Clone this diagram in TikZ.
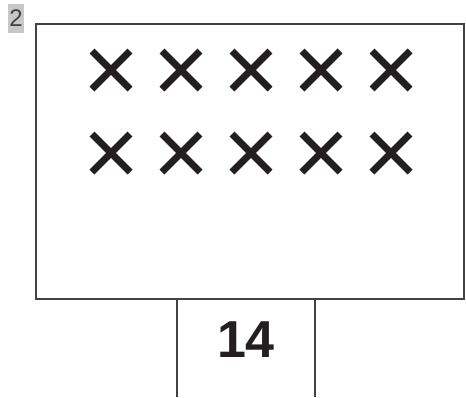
\documentclass[tikz,border=0pt]{standalone}
\usepackage{fontspec}
\setmainfont{Liberation Sans}
\definecolor{ink}{HTML}{231F20}
\definecolor{lab}{HTML}{C8C8C8}
\begin{document}
\begin{tikzpicture}[x=1pt,y=-1pt,
  crossmark/.style={draw=ink,line width=7pt},
  frame/.style={draw=ink!85,line width=1.3pt}]
\useasboundingbox (0,0) rectangle (466,397);
\node[fill=lab,minimum width=16pt,minimum height=29pt,inner sep=0pt,font=\fontsize{24}{24}\selectfont,text=ink!85] (lbl) at (16,18) {2};
\draw[frame] (36,24) rectangle (464,299);
\coordinate (bl) at (177,299);
\coordinate (br) at (315,299);
\coordinate (bl2) at (177,397);
\coordinate (br2) at (315,397);
\draw[frame] (bl) -- (bl2);
\draw[frame] (br) -- (br2);
\node[font=\fontsize{52}{52}\selectfont\bfseries,text=ink] (num) at (246,340) {14};
\foreach \cx in {111,181,251,321,391}{
  \foreach \cy in {70,153}{
    \draw[crossmark] (\cx-19,\cy-19) -- (\cx+19,\cy+19);
    \draw[crossmark] (\cx-19,\cy+19) -- (\cx+19,\cy-19);
  }
}
\end{tikzpicture}
\end{document}
